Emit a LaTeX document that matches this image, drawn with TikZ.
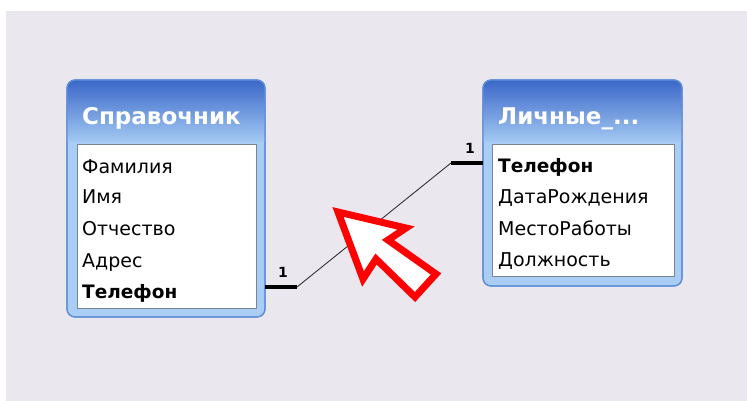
\documentclass[tikz,border=0pt]{standalone}
\usepackage{fontspec}
\setmainfont{DejaVu Sans}
\definecolor{bggray}{HTML}{EAE7EE}
\definecolor{hdtop}{HTML}{3A68C8}
\definecolor{hdbot}{HTML}{A4C9F3}
\definecolor{framefill}{HTML}{A9CDF5}
\definecolor{frameline}{HTML}{5F8FD8}
\definecolor{boxline}{HTML}{7A8594}
\definecolor{arrowred}{HTML}{FF0000}
\tikzset{
  rowtext/.style={anchor=base west, inner sep=0pt, font=\fontsize{19}{19}\selectfont, text=black},
  keytext/.style={rowtext, font=\fontsize{18.5}{19}\selectfont\bfseries},
  titletext/.style={anchor=base west, inner sep=0pt, font=\fontsize{23}{23}\selectfont\bfseries, text=white},
  onelabel/.style={inner sep=0pt, font=\fontsize{14}{14}\selectfont\bfseries, text=black},
  thickstub/.style={line width=4pt, black},
  thinlink/.style={line width=0.9pt, black!80},
  framebox/.style={rounded corners=8pt, fill=framefill, draw=frameline, line width=1.2pt},
  listbox/.style={fill=white, draw=boxline, line width=0.9pt},
}
\begin{document}
\begin{tikzpicture}[x=1pt,y=-1pt]
\path[use as bounding box, fill=white] (0,0) rectangle (747,401);
\fill[bggray] (6,11) rectangle (747,401);

% ---- left table "Справочник"
\path[framebox] (67,80) rectangle (265,317);
\begin{scope}
  \clip[rounded corners=8pt] (67,80) rectangle (265,317);
  \shade[top color=hdtop, bottom color=hdbot] (67,80) rectangle (265,142);
\end{scope}
\draw[frameline, line width=1.2pt, rounded corners=8pt] (67,80) rectangle (265,317);
\path[listbox] (77,144) rectangle (256,308);
\coordinate (lright) at (265,287);
\node[titletext] (ltitle) at (82,125) {Справочник};
\node[rowtext] (l1) at (82,173) {Фамилия};
\node[rowtext] (l2) at (82,204) {Имя};
\node[rowtext] (l3) at (82,235.5) {Отчество};
\node[rowtext] (l4) at (82,267) {Адрес};
\node[keytext] (l5) at (82,298) {Телефон};

% ---- right table "Личные_..."
\path[framebox] (483,80) rectangle (682,286);
\begin{scope}
  \clip[rounded corners=8pt] (483,80) rectangle (682,286);
  \shade[top color=hdtop, bottom color=hdbot] (483,80) rectangle (682,142);
\end{scope}
\draw[frameline, line width=1.2pt, rounded corners=8pt] (483,80) rectangle (682,286);
\path[listbox] (492,144) rectangle (674,276);
\coordinate (rleft) at (483,163);
\node[titletext] (rtitle) at (498,125) {Личные\_...};
\node[keytext] (r1) at (498,172) {Телефон};
\node[rowtext] (r2) at (498,203) {ДатаРождения};
\node[rowtext] (r3) at (498,235) {МестоРаботы};
\node[rowtext] (r4) at (498,266) {Должность};

% ---- relationship
\coordinate (lbend) at (297,287);
\coordinate (rbend) at (451,163);
\draw[thickstub] (lright) -- (lbend);
\draw[thinlink] (lbend) -- (rbend);
\draw[thickstub] (rbend) -- (rleft);
\node[onelabel] (lone) at (283,272) {1};
\node[onelabel] (rone) at (470,148) {1};

% ---- red arrow
\draw[arrowred, fill=white, line width=7pt, line join=miter, miter limit=10]
  (338,212) -- (406,228) -- (388,240) -- (436,274) -- (415,297) -- (376,259) -- (363,279) -- cycle;
\end{tikzpicture}
\end{document}
